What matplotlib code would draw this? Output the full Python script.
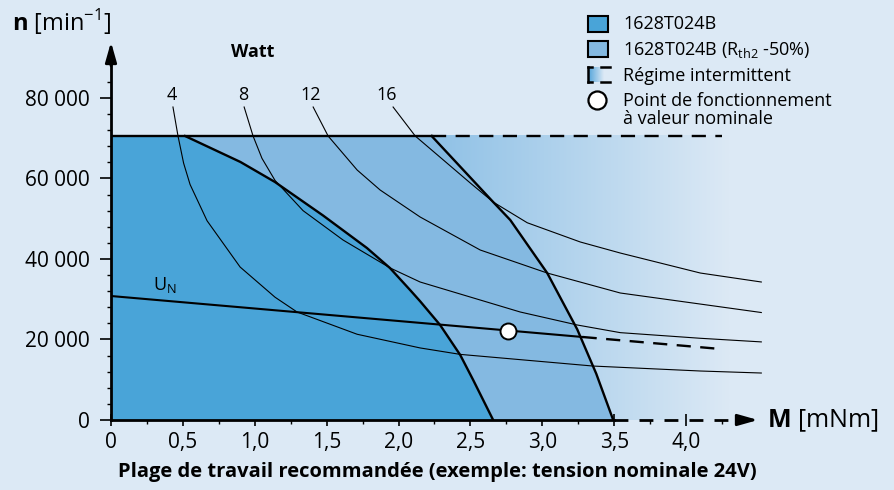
import numpy as np
import matplotlib
matplotlib.use('Agg')
import matplotlib.pyplot as plt
from matplotlib.colors import LinearSegmentedColormap
from matplotlib.patches import Rectangle
from matplotlib.lines import Line2D

plt.rcParams['font.family'] = ['Open Sans', 'DejaVu Sans']
plt.rcParams['mathtext.fontset'] = 'custom'
plt.rcParams['mathtext.rm'] = 'Open Sans'
plt.rcParams['mathtext.bf'] = 'Open Sans:bold'

# ================== DATA ==================
n_top = 70550

# 1628T024B (standard)
std_M = [0, 0.515, 0.90, 1.14, 1.475, 1.78, 1.94, 2.08, 2.15, 2.289, 2.429, 2.519, 2.658]
std_n = [70550, 70550, 64100, 59130, 50800, 42730, 37760, 32300, 29500, 23600, 16150, 9940, 0]

# 1628T024B (Rth2 -50%)
rth_M = [0, 2.23, 2.658, 2.777, 3.034, 3.243, 3.375, 3.493]
rth_n = [70550, 70550, 54150, 49680, 36510, 22500, 11500, 0]

# power curves (Watt)
p4_M = [0.431, 0.466, 0.505, 0.55, 0.668, 0.898, 1.141, 1.294, 1.712, 2.150, 2.429, 3.354, 4.099, 4.523]
p4_n = [77750, 70550, 63800, 58500, 49500, 38000, 30500, 26830, 21300, 17900, 16300, 13400, 12170, 11670]
p8_M = [0.926, 0.988, 1.05, 1.141, 1.336, 1.614, 1.942, 2.150, 2.846, 3.243, 3.542, 4.099, 4.523]
p8_n = [77750, 70550, 65000, 59500, 52000, 44710, 37760, 34280, 26830, 23600, 21700, 20300, 19400]
p12_M = [1.406, 1.510, 1.712, 1.872, 2.150, 2.568, 3.034, 3.542, 4.099, 4.523]
p12_n = [77750, 70550, 62100, 57130, 50430, 42230, 36510, 31550, 28800, 26700]
p16_M = [1.962, 2.116, 2.498, 2.658, 2.895, 3.264, 3.542, 4.099, 4.523]
p16_n = [77750, 70550, 58900, 54150, 49000, 44220, 41480, 36510, 34280]
power_labels = ['4', '8', '12', '16']
label_M = [0.424, 0.919, 1.392, 1.914]

# nominal voltage line
un_M = [0, 3.28]
un_n = [30800, 20620]
un_ext_M = [3.28, 4.24]
un_ext_n = [20620, 17640]
op_M, op_n = 2.763, 22110

xticks = [0, 0.5, 1.0, 1.5, 2.0, 2.5, 3.0, 3.5, 4.0]
xticklabels = ['0', '0,5', '1,0', '1,5', '2,0', '2,5', '3,0', '3,5', '4,0']
yticks = [0, 20000, 40000, 60000, 80000]
yticklabels = ['0', '20 000', '40 000', '60 000', '80 000']

# ================== STYLE ==================
bg = '#dce9f5'
dark = '#49a4d8'
light = '#84b9e1'
grad_start = '#8fc1e6'

W, H = 895, 490
fig = plt.figure(figsize=(W / 100, H / 100), dpi=100)
fig.patch.set_facecolor(bg)


def fx(x):
    return x / W


def fy(y):
    return 1 - y / H


ax = fig.add_axes([fx(111), fy(420), 647 / W, 378 / H])
ax.set_facecolor(bg)
ax.patch.set_alpha(0)

# intermittent gradient
cmap = LinearSegmentedColormap.from_list('grad', [grad_start, bg])
grad = np.linspace(0, 1, 256).reshape(1, -1)
ax.imshow(grad, extent=[2.23, 4.30, 0, n_top], aspect='auto', cmap=cmap, zorder=1)

ax.fill(rth_M + [0], rth_n + [0], color=light, lw=0, zorder=2)
ax.fill(std_M + [0], std_n + [0], color=dark, lw=0, zorder=3)

# power curves
for M, n in [(p4_M, p4_n), (p8_M, p8_n), (p12_M, p12_n), (p16_M, p16_n)]:
    ax.plot(M, n, color='k', lw=0.8, zorder=4, clip_on=False, solid_joinstyle='round')

# boundaries
ax.plot(std_M[1:], std_n[1:], color='k', lw=1.7, zorder=5, solid_joinstyle='round')
ax.plot(rth_M[1:], rth_n[1:], color='k', lw=1.7, zorder=5, solid_joinstyle='round')
ax.plot([0, 2.23], [n_top, n_top], color='k', lw=1.7, zorder=5)
ax.plot([2.23, 4.25], [n_top, n_top], color='k', lw=1.7, ls=(0, (6, 4)), zorder=5)

# U_N line
ax.plot(un_M, un_n, color='k', lw=1.5, zorder=5)
ax.plot(un_ext_M, un_ext_n, color='k', lw=1.7, ls=(0, (6, 4)), zorder=5)
ax.plot([op_M], [op_n], 'o', ms=11.5, mfc='white', mec='k', mew=1.4, zorder=6)
ax.text(0.29, 33600, r'U$_\mathregular{N}$', fontsize=13, ha='left', va='center', zorder=6)

# axes lines with arrows
ax.plot([0, 0], [0, 90000], color='k', lw=2, clip_on=False, zorder=7)
ax.annotate('', xy=(0, 93900), xytext=(0, 88000),
            arrowprops=dict(arrowstyle='-|>,head_length=0.6,head_width=0.17', color='k', lw=2,
                            mutation_scale=20, shrinkA=0, shrinkB=0), annotation_clip=False)
ax.plot([0, 3.5], [0, 0], color='k', lw=2, clip_on=False, zorder=7)
ax.plot([3.5, 4.36], [0, 0], color='k', lw=2, ls=(0, (5, 4)), clip_on=False, zorder=7)
ax.annotate('', xy=(4.5, 0), xytext=(4.38, 0),
            arrowprops=dict(arrowstyle='-|>,head_length=0.6,head_width=0.17', color='k', lw=2,
                            mutation_scale=20, shrinkA=0, shrinkB=0), annotation_clip=False)

ax.set_xlim(0, 4.5)
ax.set_ylim(0, 93900)
for s in ax.spines.values():
    s.set_visible(False)

ax.set_xticks(xticks)
ax.set_xticklabels(xticklabels, fontsize=15)
ax.set_xticks(np.arange(0.25, 4.3, 0.5), minor=True)
ax.set_yticks(yticks)
ax.set_yticklabels(yticklabels, fontsize=15)
ax.set_yticks([4000, 8000, 12000, 16000, 24000, 28000, 32000, 36000, 44000, 48000,
               52000, 56000, 64000, 68000, 72000, 76000, 84000], minor=True)
ax.tick_params(axis='x', which='major', direction='inout', length=9, width=1.2, pad=4)
ax.tick_params(axis='x', which='minor', direction='out', length=3, width=1)
ax.tick_params(axis='y', which='major', direction='out', length=8, width=1.2, pad=7)
ax.tick_params(axis='y', which='minor', direction='out', length=3, width=1)

# curve labels
for lbl, M in zip(power_labels, label_M):
    ax.text(M, 80700, lbl, fontsize=13, ha='center', va='center', clip_on=False)
fig.text(fx(253), fy(52), 'Watt', fontsize=13, fontweight='bold', ha='center', va='center')

# axis titles
fig.text(fx(12), fy(22), r'$\mathbf{n}$ [min$^{\mathregular{-1}}$]', fontsize=17, ha='left', va='center')
fig.text(fx(767), fy(421), r'$\mathbf{M}$ [mNm]', fontsize=18, ha='left', va='center')
fig.text(fx(437), fy(472), 'Plage de travail recommandée (exemple: tension nominale 24V)',
         fontsize=14.5, fontweight='bold', ha='center', va='center')

# legend
fig.add_artist(Rectangle((fx(588), fy(32)), 20 / W, 16 / H, transform=fig.transFigure,
                         fc=dark, ec='k', lw=1.5))
fig.add_artist(Rectangle((fx(588), fy(57)), 20 / W, 16 / H, transform=fig.transFigure,
                         fc=light, ec='k', lw=1.5))
lax = fig.add_axes([fx(589), fy(82), 15 / W, 15 / H])
lax.imshow(grad, aspect='auto', cmap=LinearSegmentedColormap.from_list('g2', ['#5aa8dc', bg]))
lax.axis('off')
for xs, ys in [([588, 588], [67, 82]), ([588, 592], [67, 67]), ([588, 592], [82, 82]),
               ([601, 610], [67, 67]), ([601, 610], [82, 82])]:
    fig.add_artist(Line2D([fx(x) for x in xs], [fy(y) for y in ys], color='k', lw=1.8,
                          transform=fig.transFigure))
fig.add_artist(Line2D([fx(597)], [fy(100)], marker='o', ms=13, mfc='white', mec='k', mew=1.6,
                      transform=fig.transFigure))

fig.text(fx(623), fy(24), '1628T024B', fontsize=13, ha='left', va='center')
fig.text(fx(623), fy(50), r'1628T024B (R$_{\mathregular{th2}}$ -50%)', fontsize=13, ha='left', va='center')
fig.text(fx(623), fy(76), 'Régime intermittent', fontsize=13, ha='left', va='center')
fig.text(fx(623), fy(101), 'Point de fonctionnement', fontsize=13, ha='left', va='center')
fig.text(fx(623), fy(119), 'à valeur nominale', fontsize=13, ha='left', va='center')

fig.savefig('out.png', dpi=100, facecolor=bg)
